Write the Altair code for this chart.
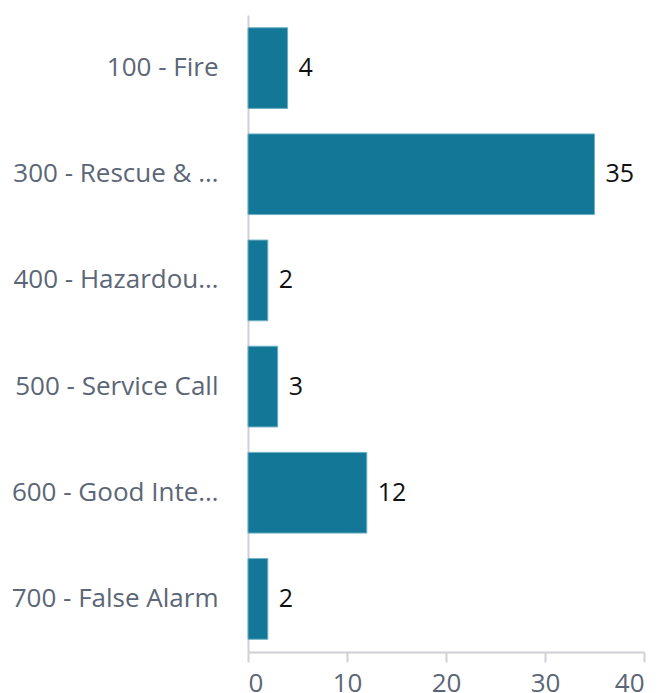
import altair as alt
import pandas as pd

categories = ["100 - Fire", "300 - Rescue & Emergency Medical Service", "400 - Hazardous Condition",
              "500 - Service Call", "600 - Good Intent Call", "700 - False Alarm"]
counts = [4, 35, 2, 3, 12, 2]

df = pd.DataFrame({"category": categories, "count": counts})

base = alt.Chart(df).encode(
    y=alt.Y("category:N", sort=categories, title=None,
            scale=alt.Scale(paddingInner=0.24, paddingOuter=0.12),
            axis=alt.Axis(labelFontSize=26, labelColor="#5b6676", labelLimit=210,
                          labelPadding=30, ticks=False, domainColor="#d0d0d6",
                          domainWidth=2, labelFont="Open Sans")),
    x=alt.X("count:Q", title=None,
            scale=alt.Scale(domain=[0, 40]),
            axis=alt.Axis(values=[0, 10, 20, 30, 40], labelFontSize=26, labelColor="#5b6676",
                          grid=False, tickSize=10, tickColor="#d0d0d6", tickWidth=2,
                          domainColor="#d0d0d6", domainWidth=2, labelPadding=8,
                          labelFont="Open Sans")),
)

bars = base.mark_bar(color="#137898", stroke="#6fb0c4", strokeWidth=1)
text = base.mark_text(align="left", dx=11, fontSize=25, color="#111111",
                      font="Open Sans").encode(text="count:Q")

chart = (bars + text).properties(
    width=396, height=637,
    padding={"top": 7, "left": 3, "right": 5, "bottom": 5},
).configure_view(stroke=None)

chart.save("out.html", embed_options={"renderer": "svg", "actions": False})
